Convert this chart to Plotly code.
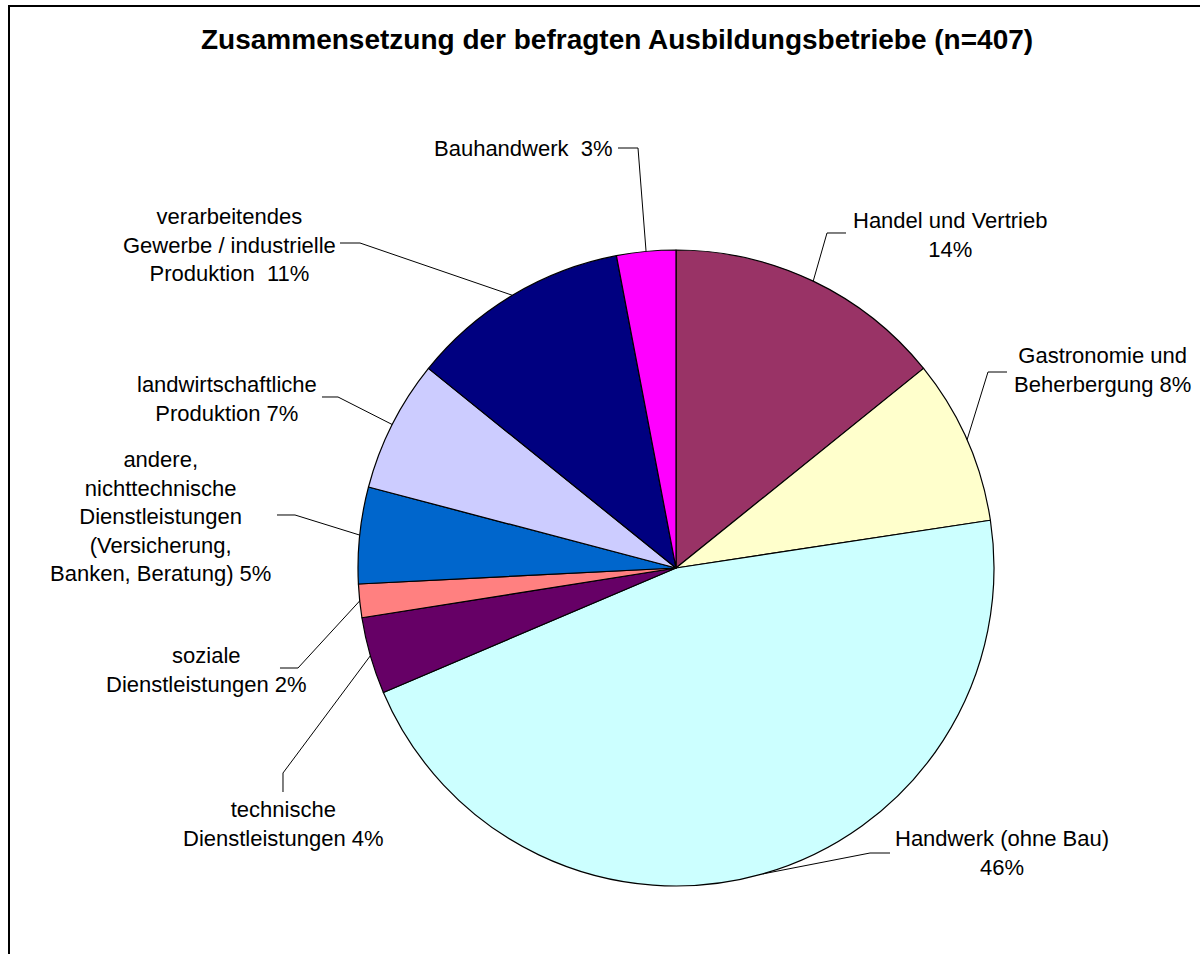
import math
import plotly.graph_objects as go

# ---------------- data ----------------
categories = [
    "Handel und Vertrieb",
    "Gastronomie und Beherbergung",
    "Handwerk (ohne Bau)",
    "technische Dienstleistungen",
    "soziale Dienstleistungen",
    "andere, nichttechnische Dienstleistungen (Versicherung, Banken, Beratung)",
    "landwirtschaftliche Produktion",
    "verarbeitendes Gewerbe / industrielle Produktion",
    "Bauhandwerk",
]
shares = [14.2, 8.4, 46.0, 3.9, 1.7, 4.9, 6.7, 11.2, 3.0]
label_templates = [
    "Handel und Vertrieb<br>{p}%",
    "Gastronomie und<br>Beherbergung {p}%",
    "Handwerk (ohne Bau)<br>{p}%",
    "technische<br>Dienstleistungen {p}%",
    "soziale<br>Dienstleistungen {p}%",
    "andere,<br>nichttechnische<br>Dienstleistungen<br>(Versicherung,<br>Banken, Beratung) {p}%",
    "landwirtschaftliche<br>Produktion {p}%",
    "verarbeitendes<br>Gewerbe / industrielle<br>Produktion\u00a0 {p}%",
    "Bauhandwerk\u00a0 {p}%",
]
colors = ["#993366", "#FFFFCC", "#CCFFFF", "#660066", "#FF8080",
          "#0066CC", "#CCCCFF", "#000080", "#FF00FF"]
title = "<b>Zusammensetzung der befragten Ausbildungsbetriebe (n=407)</b>"

# ---------------- layout constants (pixels) ----------------
W, H = 1200, 954
CX, CY, R = 676, 568, 318
FONT = "Liberation Sans, Arial, sans-serif"

# label anchor positions (x, y, xanchor) and leader elbows (label side first)
label_pos = [
    (950, 235, "center"),
    (1102, 370, "center"),
    (1002, 853, "center"),
    (283, 824, "center"),
    (207, 670, "center"),
    (160, 516, "center"),
    (227, 399, "center"),
    (229, 245, "center"),
    (615, 148, "right"),
]
elbows = [
    [(846, 233), (827, 233)],
    [(1007, 372), (988, 372)],
    [(890, 853), (870, 853)],
    [(283, 792), (283, 773)],
    [(280, 668), (298, 668)],
    [(277, 515), (295, 515)],
    [(322, 397), (338, 397)],
    [(340, 243), (360, 243)],
    [(618, 148), (638, 148)],
]


def px(x, y):
    return x / W, 1 - y / H


fig = go.Figure(go.Pie(
    labels=categories,
    values=shares,
    sort=False,
    direction="clockwise",
    rotation=0,
    marker=dict(colors=colors, line=dict(color="black", width=1.2)),
    textinfo="none",
    hoverinfo="label+percent",
    showlegend=False,
    domain=dict(x=[(CX - R) / W, (CX + R) / W],
                y=[1 - (CY + R) / H, 1 - (CY - R) / H]),
))

annotations = []
shapes = []
total = sum(shares)
cum = 0.0
for i, v in enumerate(shares):
    mid = (cum + v / 2) / total
    cum += v
    ang = 2 * math.pi * mid
    ex, ey = CX + R * math.sin(ang), CY - R * math.cos(ang)
    pts = elbows[i] + [(ex, ey)]
    path = ""
    for j, (x, y) in enumerate(pts):
        u, w = px(x, y)
        path += ("M" if j == 0 else " L") + f" {u:.5f} {w:.5f}"
    shapes.append(dict(type="path", xref="paper", yref="paper", path=path,
                       line=dict(color="black", width=1)))
    lx, ly, xa = label_pos[i]
    u, w = px(lx, ly)
    annotations.append(dict(
        x=u, y=w, xref="paper", yref="paper", showarrow=False,
        xanchor=xa, yanchor="middle", align="center",
        text=label_templates[i].format(p=round(v)),
        font=dict(family=FONT, size=22, color="black"),
    ))

tx, ty = px(617, 40)
annotations.append(dict(x=tx, y=ty, xref="paper", yref="paper", showarrow=False,
                        xanchor="center", yanchor="middle", text=title,
                        font=dict(family=FONT, size=28, color="black")))

bx0, by0 = px(9, 6)
bx1, by1 = px(1215, 970)
shapes.append(dict(type="rect", xref="paper", yref="paper",
                   x0=bx0, y0=by1, x1=bx1, y1=by0,
                   line=dict(color="black", width=2)))

fig.update_layout(
    width=W, height=H,
    margin=dict(l=0, r=0, t=0, b=0),
    paper_bgcolor="white", plot_bgcolor="white",
    annotations=annotations, shapes=shapes,
    font=dict(family=FONT),
)

fig.write_html("out.html", config={"displayModeBar": False},
               post_script="document.body.style.margin='0';")
